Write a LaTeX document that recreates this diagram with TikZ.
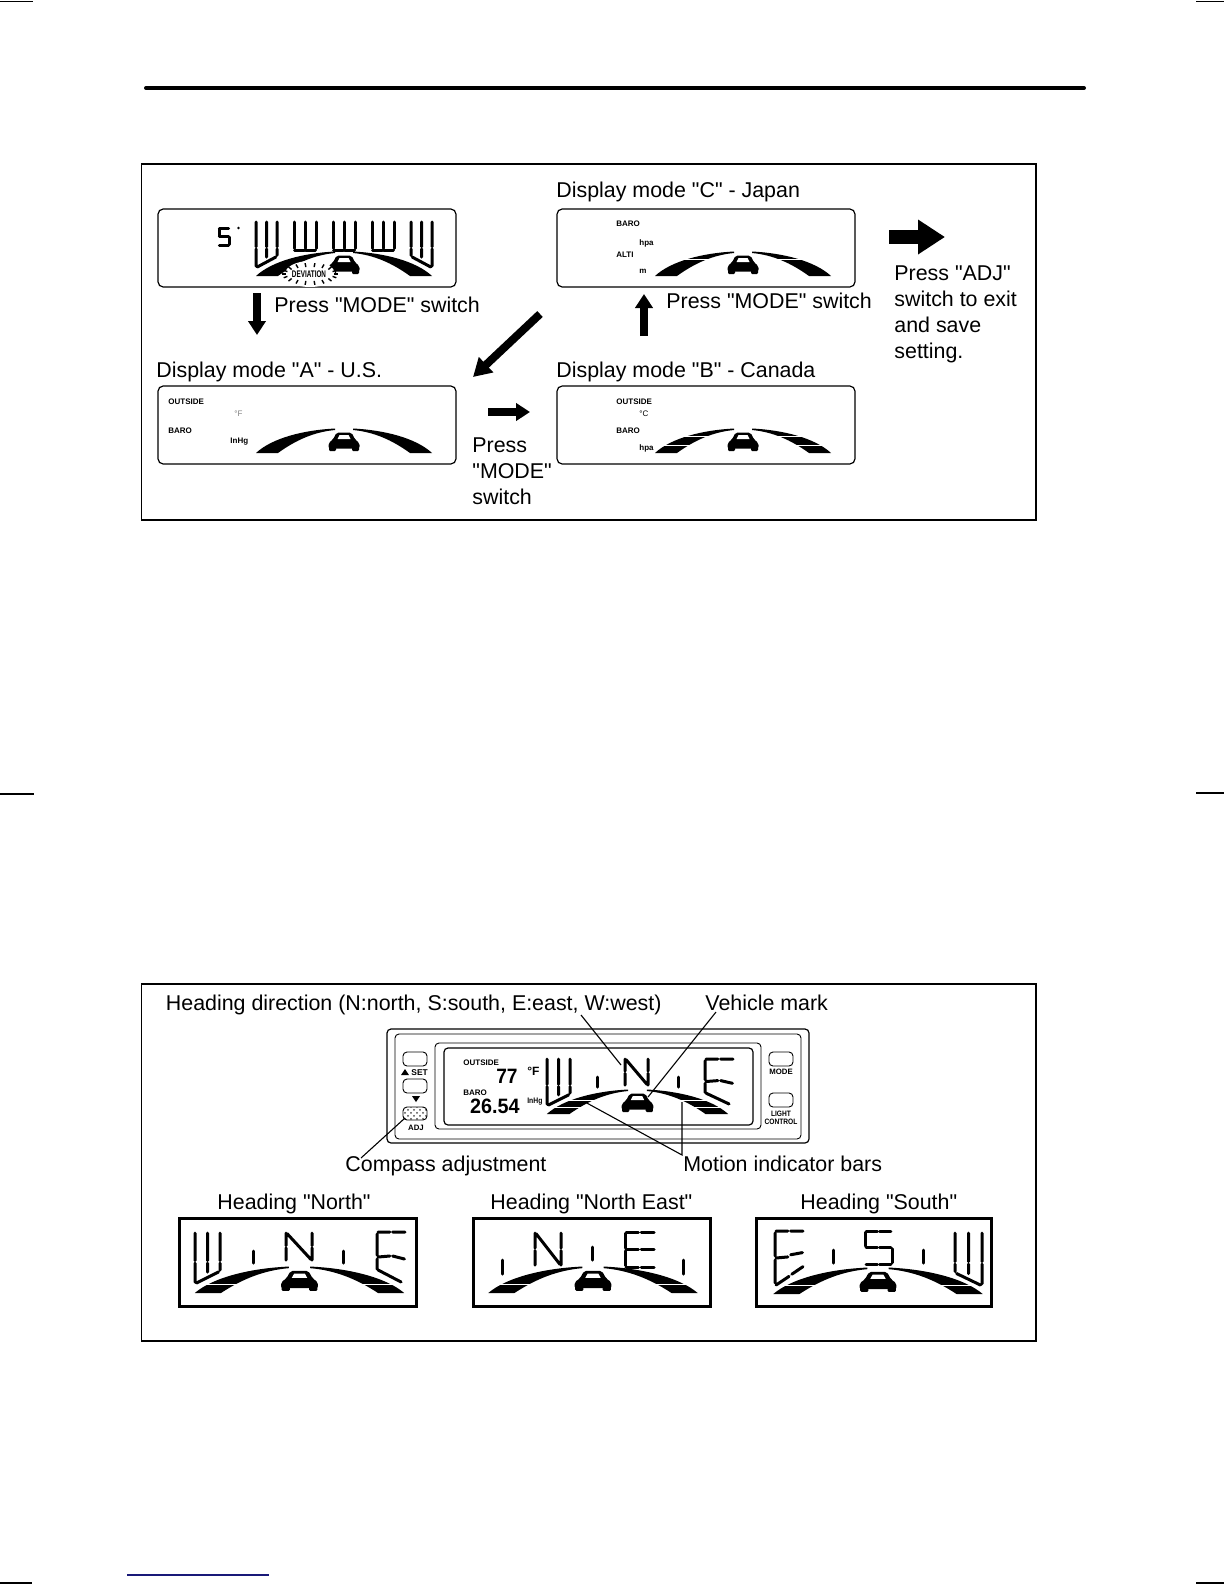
\documentclass[tikz,border=0pt]{standalone}
\usepackage{fontspec}
\setmainfont{Liberation Sans}
\newfontfamily\lsans{Liberation Sans}
\usetikzlibrary{arrows.meta,patterns}
\definecolor{navyrule}{RGB}{25,25,120}
\tikzset{
  lbl/.style={anchor=base west,inner sep=0pt,font=\lsans\fontsize{10.7}{12}\selectfont},
  lcd/.style={anchor=base west,inner sep=0pt,font=\fontsize{4}{5}\selectfont\bfseries},
  lcdc/.style={anchor=base,inner sep=0pt,font=\fontsize{3.9}{5}\selectfont\bfseries},
  frame/.style={draw=black,line width=0.65pt},
  lcdbox/.style={draw=black,line width=0.6pt,rounded corners=2.6pt},
  thinbox/.style={draw=black,line width=0.45pt,rounded corners=2pt},
  headbox/.style={draw=black,line width=1.5pt},
  seg/.style={line width=1.5pt,line cap=round},
  leader/.style={draw=black,line width=0.55pt},
  crop/.style={draw=black,line width=0.6pt},
  arrowsmall/.style={draw=black,line width=3.7pt,-{Triangle[length=7pt,width=8.6pt]}},
  arrowdiag/.style={draw=black,line width=4pt,-{Triangle[length=9pt,width=10pt]}},
  arrowbig/.style={draw=black,line width=7pt,-{Triangle[length=13.5pt,width=16.5pt]}},
}
% road bars and car: centre x, base y, x scale, y scale, stripe heights
\newcommand{\roadcar}[5]{%
 \begin{scope}[shift={(#1,#2)},xscale=#3,yscale=#4]
  \fill (-88,0) .. controls (-72,-15) and (-40,-23) .. (-9,-24.5) -- (-9,-23)
    .. controls (-30,-21) and (-48,-13) .. (-66,0) -- cycle;
  \fill (88,0) .. controls (72,-15) and (40,-23) .. (9,-24.5) -- (9,-23)
    .. controls (30,-21) and (48,-13) .. (66,0) -- cycle;
  \foreach \yy in {#5}{\draw[white,line width=0.3pt] (-92,\yy) -- (-30,\yy) (30,\yy) -- (92,\yy);}
  \fill[rounded corners=1pt] (-15.5,-4.5) -- (-15.5,-10) -- (-11,-13.5) -- (-7.5,-20.5) -- (7.5,-20.5) -- (11,-13.5) -- (15.5,-10) -- (15.5,-4.5) -- cycle;
  \fill[white] (-6.5,-14) -- (-4.5,-18) -- (4.5,-18) -- (6.5,-14) -- cycle;
  \fill[rounded corners=0.6pt] (-15,-7) rectangle (-8,-2);
  \fill[rounded corners=0.6pt] (8,-7) rectangle (15,-2);
 \end{scope}}
\newcommand{\ltrW}[4]{\begin{scope}[shift={(#1,#2)},xscale=#3,yscale=#4]
  \draw[seg] (0,0)--(0,.55) (0,.6)--(0,.98) (.5,0)--(.5,.55) (.5,.6)--(.5,.78) (1,0)--(1,.55) (1,.6)--(1,.74) (.06,1)--(.94,.78);
 \end{scope}}
\newcommand{\ltrWs}[4]{\begin{scope}[shift={(#1,#2)},xscale=#3,yscale=#4]
  \draw[seg] (0,0)--(0,.94) (.5,0)--(.5,.94) (1,0)--(1,.94) (.03,1)--(.47,1) (.53,1)--(.97,1);
 \end{scope}}
\newcommand{\ltrN}[4]{\begin{scope}[shift={(#1,#2)},xscale=#3,yscale=#4]
  \draw[seg] (0,0)--(0,.47) (0,.55)--(0,1) (1,0)--(1,.47) (1,.55)--(1,1) (.04,.02)--(.96,.98);
 \end{scope}}
\newcommand{\ltrEd}[4]{\begin{scope}[shift={(#1,#2)},xscale=#3,yscale=#4]
  \draw[seg] (.04,0)--(.46,0) (.56,0)--(1,0) (0,.04)--(0,.46) (0,.54)--(0,.74) (.04,.5)--(.46,.48) (.56,.48)--(.98,.54) (.04,.76)--(.86,1);
 \end{scope}}
\newcommand{\ltrEu}[4]{\begin{scope}[shift={(#1,#2)},xscale=#3,yscale=#4]
  \draw[seg] (.04,0)--(.46,0) (.56,0)--(1,0) (0,.04)--(0,.46) (0,.54)--(0,.96) (.04,.5)--(.46,.48) (.56,.44)--(.98,.4) (.04,1)--(.5,.84) (.6,.8)--(1,.66);
 \end{scope}}
\newcommand{\ltrE}[4]{\begin{scope}[shift={(#1,#2)},xscale=#3,yscale=#4]
  \draw[seg] (.04,0)--(.46,0) (.56,0)--(1,0) (0,.04)--(0,.46) (0,.54)--(0,.96) (.04,.5)--(.46,.5) (.56,.5)--(1,.5) (.04,1)--(.46,1) (.56,1)--(1,1);
 \end{scope}}
\newcommand{\ltrS}[4]{\begin{scope}[shift={(#1,#2)},xscale=#3,yscale=#4]
  \draw[seg] (.04,0)--(.46,0) (.54,0)--(.96,0) (0,.04)--(0,.46) (.04,.5)--(.46,.5) (.54,.5)--(.96,.5) (1,.54)--(1,.96) (.04,1)--(.46,1) (.54,1)--(.96,1);
 \end{scope}}
\newcommand{\tick}[3]{\draw[seg] (#1,#2)--(#1,#3);}
\begin{document}
\begin{tikzpicture}[x=0.5pt,y=-0.5pt]
\useasboundingbox (0,0) rectangle (1224,1584);
\fill[white] (0,0) rectangle (1224,1584);
% crop marks and rules
\draw[crop] (0,1.5)--(33,1.5) (1196,1.5)--(1224,1.5) (0,794)--(34,794) (1196,793)--(1224,793) (0,1583)--(32,1583) (1196,1583)--(1224,1583);
\draw[line width=2pt,line cap=round] (146,88)--(1084,88);
\draw[navyrule,line width=0.6pt] (127,1575)--(269,1575);
% upper panel
\draw[frame] (141.5,164) rectangle (1036,520);
\draw[lcdbox] (158,209) rectangle (456,287);
\draw[lcdbox] (557,209) rectangle (855,287);
\draw[lcdbox] (158,386) rectangle (456,464);
\draw[lcdbox] (557,386) rectangle (855,464);
\node[lbl] (tc) at (556,197) {Display mode "C" - Japan};
\node[lbl] (ta) at (156,377) {Display mode "A" - U.S.};
\node[lbl] (tb) at (556,377) {Display mode "B" - Canada};
\node[lbl] (p1) at (274,312) {Press "MODE" switch};
\node[lbl] (p2) at (666,308) {Press "MODE" switch};
\node[lbl] (p3a) at (472,452) {Press};
\node[lbl] (p3b) at (472,478) {"MODE"};
\node[lbl] (p3c) at (472,504) {switch};
\node[lbl] (x1) at (894,280) {Press "ADJ"};
\node[lbl] (x2) at (894,306) {switch to exit};
\node[lbl] (x3) at (894,332) {and save};
\node[lbl] (x4) at (894,358) {setting.};
% arrows
\coordinate (a1s) at (257,293); \coordinate (a1e) at (257,335);
\coordinate (a2s) at (540,314); \coordinate (a2e) at (473,377);
\coordinate (a3s) at (488,412); \coordinate (a3e) at (530,412);
\coordinate (a4s) at (644,336); \coordinate (a4e) at (644,294);
\coordinate (a5s) at (889,237); \coordinate (a5e) at (945,237);
\draw[arrowsmall] (a1s)--(a1e);
\draw[arrowdiag] (a2s)--(a2e);
\draw[arrowsmall] (a3s)--(a3e);
\draw[arrowsmall] (a4s)--(a4e);
\draw[arrowbig] (a5s)--(a5e);
% display 1
\roadcar{344}{276}{1}{1}{}
\ltrS{219}{228}{10}{17}
\fill (238.5,228) circle (0.7pt);
\ltrW{256}{222}{21}{45}
\ltrWs{294}{222}{22}{28}
\ltrWs{333}{222}{22}{28}
\ltrWs{372}{222}{22}{28}
\ltrW{432}{222}{-21}{45}
\fill[white] (310,274) ellipse (25 and 13);
\foreach \ang in {0,20,...,340}{\draw[line width=0.7pt] ({310+24*cos(\ang)},{274+7*sin(\ang)}) -- ({310+28*cos(\ang)},{274+11*sin(\ang)});}
\node[inner sep=0pt,xscale=.66,font=\fontsize{4.8}{5}\selectfont\bfseries] (dev) at (309,274) {DEVIATION};
% display A
\roadcar{344}{453}{1}{1}{}
\node[lcd] (oa) at (168,404) {OUTSIDE};
\node[lcd,text=gray,font=\fontsize{4}{5}\selectfont] (fa) at (234,416) {°F};
\node[lcd] (ba) at (168,433) {BARO};
\node[lcd] (ia) at (230,443) {InHg};
% display B
\roadcar{743}{453}{1}{1}{-8,-17}
\node[lcd] (ob) at (616,404) {OUTSIDE};
\node[lcd,font=\fontsize{4}{5}\selectfont] (cb) at (639,416) {°C};
\node[lcd] (bb) at (616,433) {BARO};
\node[lcd] (hb) at (639,450) {hpa};
% display C
\roadcar{743}{276}{1}{1}{-17}
\node[lcd] (bc) at (616,226) {BARO};
\node[lcd] (hc) at (639,245) {hpa};
\node[lcd] (ac) at (616,257) {ALTI};
\node[lcd] (mc) at (639,273) {m};
% lower panel
\draw[frame] (141.5,984) rectangle (1036,1341);
\node[lbl] (hd) at (165.5,1010) {Heading direction (N:north, S:south, E:east, W:west)};
\node[lbl] (vm) at (705,1010) {Vehicle mark};
\node[lbl] (ca) at (345,1171) {Compass adjustment};
\node[lbl] (mi) at (683,1171) {Motion indicator bars};
% device
\draw[thinbox,line width=0.6pt] (387,1029) rectangle (809,1143);
\draw[thinbox] (395,1034) rectangle (801,1139);
\draw[thinbox] (435,1043) rectangle (761,1129);
\draw[thinbox,line width=0.6pt] (444,1048) rectangle (753,1125);
\draw[thinbox] (403,1052) rectangle (427,1066);
\draw[thinbox] (403,1079) rectangle (427,1093);
\draw[thinbox,pattern=crosshatch dots,pattern color=black!70] (403,1107) rectangle (427,1120);
\draw[thinbox] (769,1052) rectangle (793,1066);
\draw[thinbox] (769,1093) rectangle (793,1107);
\node[lcd,font=\fontsize{4.2}{5}\selectfont\bfseries] (setl) at (411,1075) {SET};
\fill (401,1075) -- (409,1075) -- (405,1069) -- cycle;
\fill (412,1096) -- (420,1096) -- (416,1102) -- cycle;
\node[lcdc] (adj) at (416,1130) {ADJ};
\node[lcdc] (mode) at (781,1074) {MODE};
\node[lcdc,xscale=.85] (light) at (781,1116) {LIGHT};
\node[lcdc,xscale=.85] (ctrl) at (781,1124) {CONTROL};
\node[lcd] (od) at (463,1065) {OUTSIDE};
\node[lcd] (bd) at (463,1095) {BARO};
\node[lcd,xscale=.85] (id) at (527,1103) {InHg};
\node[lcd,font=\fontsize{6}{6}\selectfont\bfseries] (fd) at (527,1075) {°F};
\node[anchor=base east,inner sep=0pt,xscale=.92,font=\fontsize{10.4}{11}\selectfont\bfseries] (t77) at (518,1083) {77};
\node[anchor=base east,inner sep=0pt,xscale=.95,font=\fontsize{10.4}{11}\selectfont\bfseries] (t26) at (520,1113) {26.54};
\roadcar{637.5}{1114}{1.03}{1}{-7,-14}
\ltrW{547}{1059}{23}{46}
\ltrN{625}{1059}{23}{26}
\ltrEd{705}{1059}{28}{45}
\tick{597}{1077}{1087}
\tick{678}{1077}{1087}
% leaders
\coordinate (l1s) at (581,1015); \coordinate (l1e) at (621,1065);
\coordinate (l2s) at (716,1012); \coordinate (l2e) at (648,1097);
\coordinate (l3s) at (405,1118); \coordinate (l3e) at (361,1158);
\coordinate (l4a) at (585,1102); \coordinate (l4j) at (682,1155); \coordinate (l4b) at (682,1102);
\draw[leader] (l1s)--(l1e);
\draw[leader] (l2s)--(l2e);
\draw[leader] (l3s)--(l3e);
\draw[leader] (l4a)--(l4j)--(l4b);
% headings
\node[lbl] (h1) at (217,1209) {Heading "North"};
\node[lbl] (h2) at (490,1209) {Heading "North East"};
\node[lbl] (h3) at (800,1209) {Heading "South"};
\draw[headbox] (179.7,1218.5) rectangle (416.5,1306);
\draw[headbox] (473.5,1218.5) rectangle (710.5,1306);
\draw[headbox] (756,1218.5) rectangle (991.5,1306);
\roadcar{299.5}{1293}{1.19}{1.08}{-8}
\ltrW{195}{1233}{25}{50}
\ltrN{286}{1233}{26}{27}
\ltrEd{377}{1232}{28}{50}
\tick{253}{1251}{1263}
\tick{343}{1251}{1263}
\roadcar{593}{1293}{1.19}{1.08}{-8}
\ltrN{535}{1233}{26}{32}
\ltrE{625}{1232}{29}{35}
\tick{502}{1260}{1274}
\tick{592}{1247}{1260}
\tick{683}{1260}{1274}
\roadcar{878}{1294}{1.19}{1.08}{-8}
\ltrEu{775}{1231}{28}{54}
\ltrS{865}{1231}{27}{33}
\ltrW{982}{1233}{-27}{52}
\tick{833}{1250}{1263}
\tick{923}{1250}{1263}
\end{tikzpicture}
\end{document}
